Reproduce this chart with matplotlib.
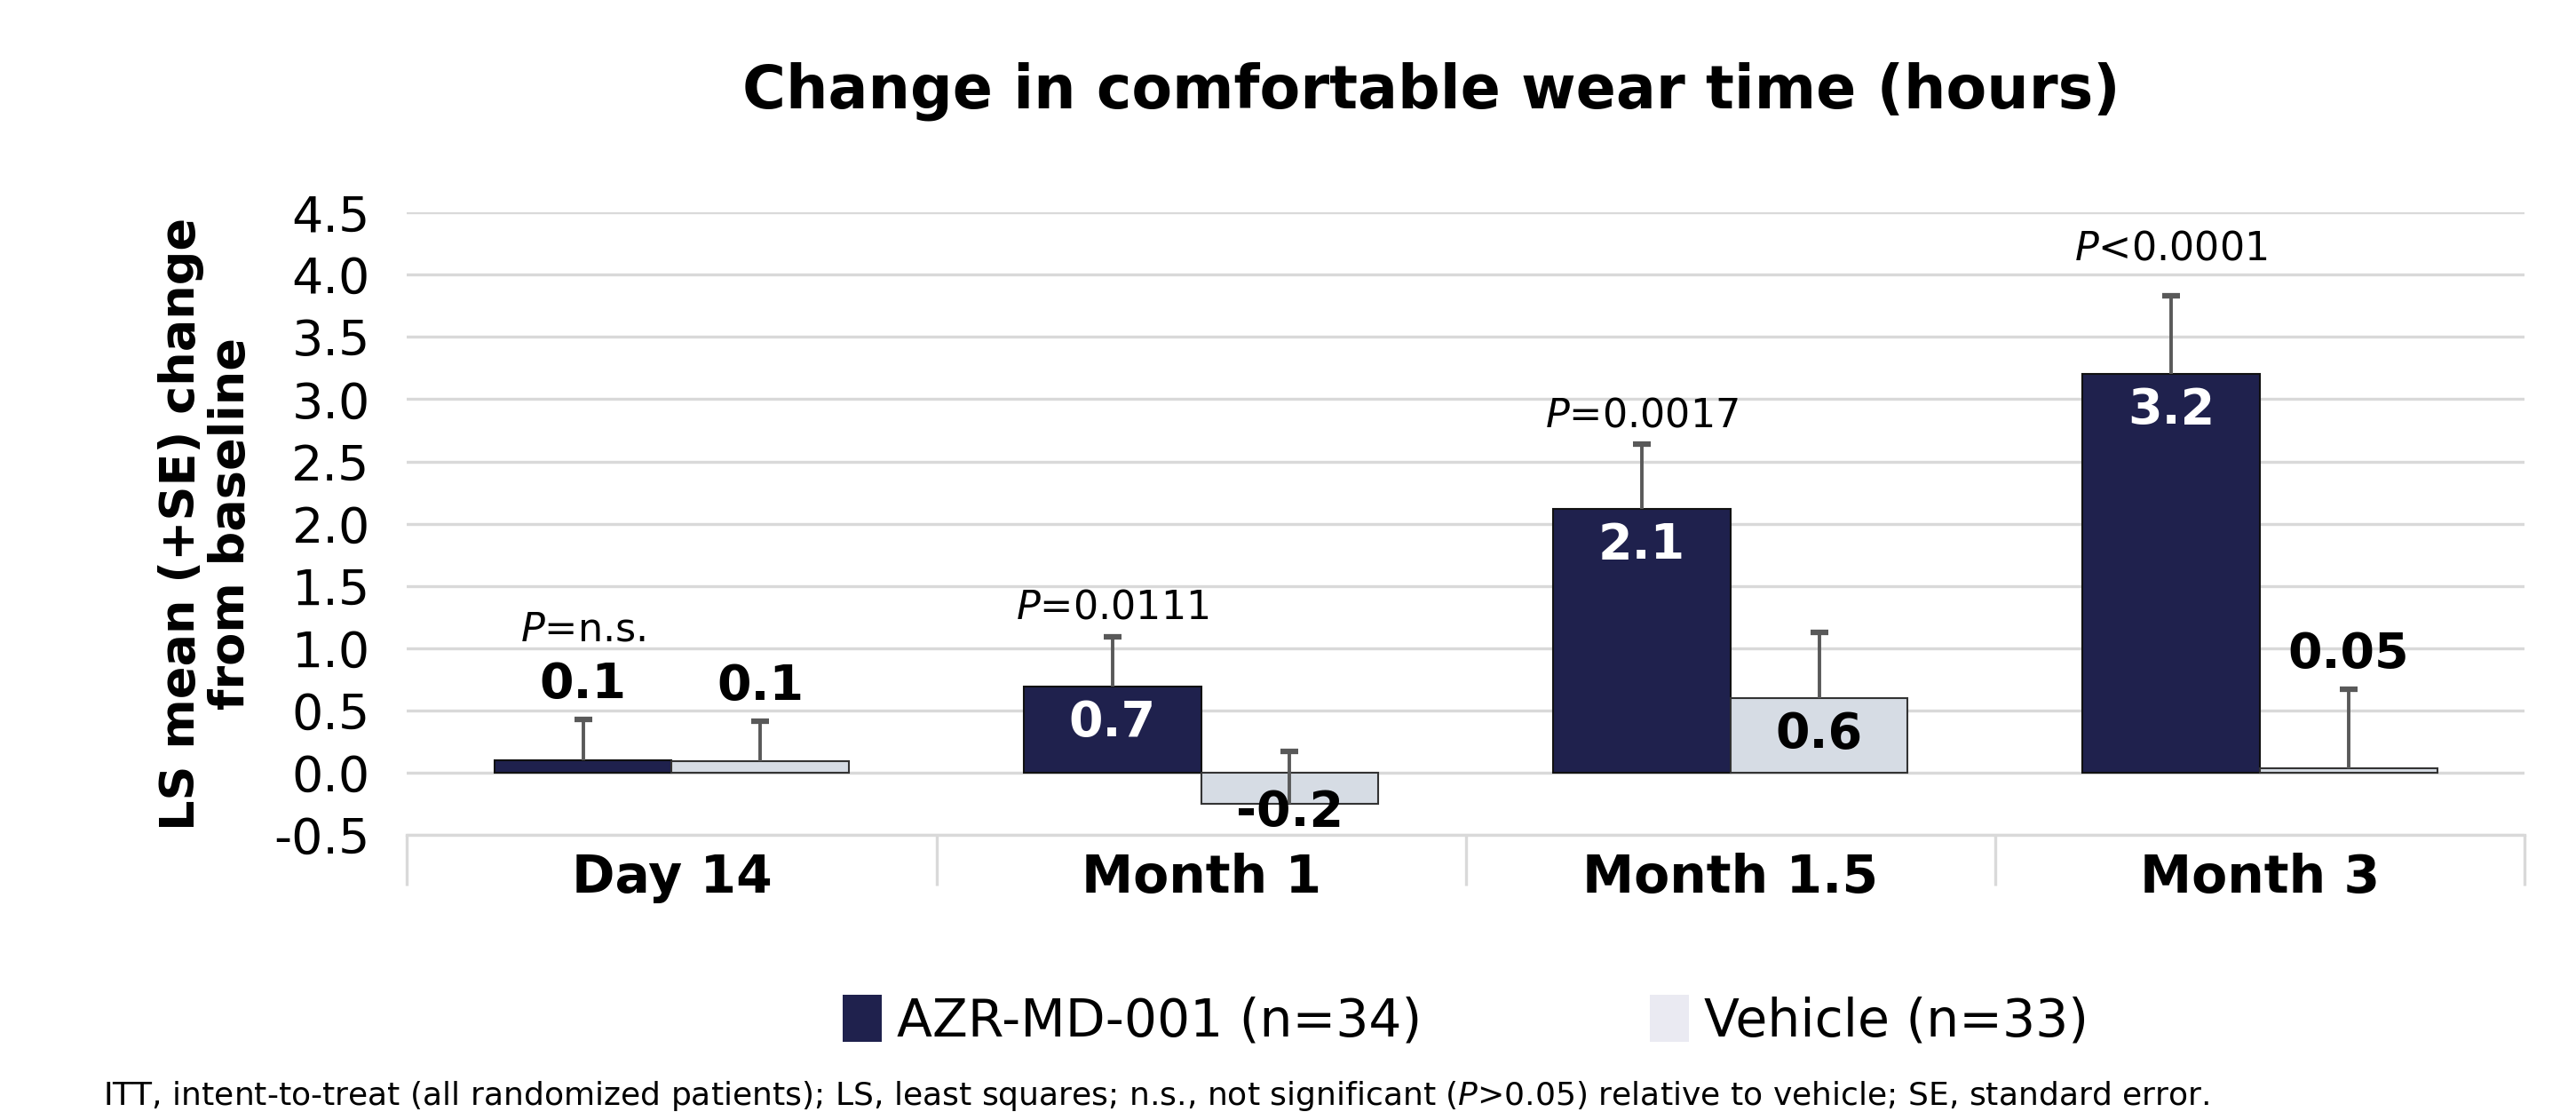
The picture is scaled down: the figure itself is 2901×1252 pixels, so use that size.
import numpy as np
import matplotlib
matplotlib.use("Agg")
import matplotlib.pyplot as plt
from matplotlib.patches import Patch

plt.rcParams['font.family'] = ['DejaVu Sans']
plt.rcParams['mathtext.fontset'] = 'dejavusans'

categories = ["Day 14", "Month 1", "Month 1.5", "Month 3"]
azr_mean = [0.10, 0.69, 2.12, 3.20]
azr_se = [0.33, 0.40, 0.52, 0.63]
veh_mean = [0.095, -0.25, 0.60, 0.04]
veh_se = [0.32, 0.42, 0.53, 0.63]
azr_text = ["0.1", "0.7", "2.1", "3.2"]
veh_text = ["0.1", "-0.2", "0.6", "0.05"]
p_text = ["=n.s.", "=0.0111", "=0.0017", "<0.0001"]
series_names = ["AZR-MD-001 (n=34)", "Vehicle (n=33)"]
yticks = np.arange(-0.5, 4.51, 0.5)

navy = "#1F214D"
light = "#D6DCE4"
err_col = "#595959"
grid_col = "#D9D9D9"

fig = plt.figure(figsize=(29.01, 12.52), dpi=100)
ax = fig.add_axes([0.158, 0.249, 0.822, 0.560])

x = np.arange(len(categories))
w = 0.335

ax.bar(x - w / 2, azr_mean, w, color=navy, edgecolor="#111111", linewidth=1.5, zorder=2)
ax.bar(x + w / 2, veh_mean, w, color=light, edgecolor="#333333", linewidth=1.5, zorder=2)

# upper-only error bars
for xs, m, se in [(x - w / 2, azr_mean, azr_se), (x + w / 2, veh_mean, veh_se)]:
    top = np.array(m) + np.array(se)
    ax.vlines(xs, m, top, color=err_col, linewidth=2.8, zorder=3)
    ax.plot(xs, top, ls="none", marker="_", ms=15, mew=4.5, color=err_col, zorder=3)

# value labels
def put_label(xpos, val, se, txt, dark_bar):
    if val > 0.5:
        ax.text(xpos, val - 0.29, txt, ha="center", va="center", fontsize=40,
                fontweight="bold", color="white" if dark_bar else "black", zorder=4)
    elif val < 0:
        ax.text(xpos, val - 0.07, txt, ha="center", va="center", fontsize=40,
                fontweight="bold", color="black", zorder=4)
    else:
        ax.text(xpos, val + se + 0.28, txt, ha="center", va="center", fontsize=40,
                fontweight="bold", color="black", zorder=4)

for i in range(len(categories)):
    put_label(x[i] - w / 2, azr_mean[i], azr_se[i], azr_text[i], True)
    put_label(x[i] + w / 2, veh_mean[i], veh_se[i], veh_text[i], False)

# P-values above the active bars
p_gap = [0.72, 0.24, 0.23, 0.38]
for i in range(len(categories)):
    ax.text(x[i] - w / 2, azr_mean[i] + azr_se[i] + p_gap[i], r"$\mathit{P}$" + p_text[i],
            ha="center", va="center", fontsize=32, color="black", zorder=4)

ax.set_xlim(-0.5, len(categories) - 0.5)
ax.set_ylim(-0.5, 4.5)
ax.set_yticks(yticks)
ax.set_yticklabels([f"{v:.1f}" for v in yticks])
ax.yaxis.grid(True, color=grid_col, linewidth=2.4, zorder=0)
ax.set_axisbelow(True)
ax.tick_params(axis="y", length=0, pad=30, labelsize=40)

ax.set_xticks(x)
ax.set_xticklabels(categories, fontsize=42, fontweight="bold")
ax.set_xticks(np.arange(-0.5, len(categories), 1.0), minor=True)
ax.tick_params(axis="x", which="major", length=0, pad=14)
ax.tick_params(axis="x", which="minor", length=41, width=2.4, color=grid_col, direction="out")

for s in ["top", "right", "left"]:
    ax.spines[s].set_visible(False)
ax.spines["bottom"].set_color(grid_col)
ax.spines["bottom"].set_linewidth(2.4)

ax.set_ylabel("LS mean (+SE) change\nfrom baseline", fontsize=39, fontweight="bold",
              labelpad=16, linespacing=1.1)

fig.text(0.5555, 0.918, "Change in comfortable wear time (hours)", ha="center", va="center",
         fontsize=48, fontweight="bold")

handles = [Patch(facecolor=navy, edgecolor="none"), Patch(facecolor="#EAEAF2", edgecolor="none")]
fig.legend(handles, series_names, loc="center", bbox_to_anchor=(0.569, 0.082), ncol=2,
           frameon=False, fontsize=42, handlelength=0.75, handleheight=1.0,
           handletextpad=0.3, columnspacing=4.4)

fig.text(0.040, 0.014, "ITT, intent-to-treat (all randomized patients); LS, least squares; "
         r"n.s., not significant ($\mathit{P}$>0.05) relative to vehicle; SE, standard error.",
         ha="left", va="center", fontsize=26, color="black")

fig.savefig("out.png", dpi=100)
